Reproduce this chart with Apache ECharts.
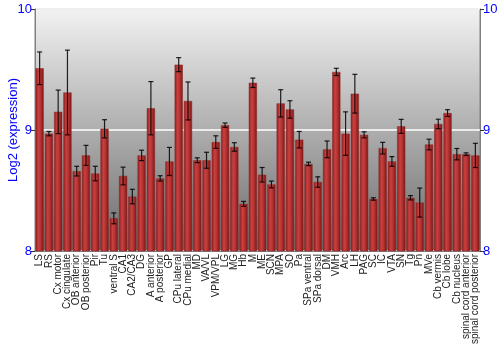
<!DOCTYPE html>
<html>
<head>
<meta charset="utf-8">
<script src="https://cdn.jsdelivr.net/npm/echarts@6/dist/echarts.min.js"></script>
<style>
html,body{margin:0;padding:0;background:#fff;}
#chart{width:500px;height:350px;}
</style>
</head>
<body>
<div id="chart"></div>
<script>
// brain regions
var regions = ['LS', 'RS', 'Cx motor', 'Cx cingulate', 'OB anterior', 'OB posterior', 'Pir', 'Tu',
    'ventral S', 'CA1', 'CA2/CA3', 'DG', 'A anterior', 'A posterior', 'GP', 'CPu lateral',
    'CPu medial', 'MD', 'VA/VL', 'VPM/VPL', 'LG', 'MG', 'Hb', 'M', 'ME', 'SCN', 'MPA', 'SO',
    'Pa', 'SPa ventral', 'SPa dorsal', 'DM', 'VMH', 'Arc', 'LH', 'PAG', 'SC', 'IC', 'VTA', 'SN',
    'Tg', 'Pn', 'MVe', 'Cb vermis', 'Cb lobe', 'Cb nucleus', 'spinal cord anterior', 'spinal cord posterior'];

// mean log2 expression
var expression = [9.51, 8.97, 9.15, 9.31, 8.66, 8.79, 8.64, 9.01,
    8.27, 8.62, 8.45, 8.79, 9.18, 8.60, 8.74, 9.54,
    9.24, 8.75, 8.75, 8.90, 9.04, 8.86, 8.39, 9.39, 8.63, 8.55, 9.22, 9.17,
    8.92, 8.72, 8.57, 8.84, 9.48, 8.97, 9.30, 8.96, 8.43, 8.85, 8.74, 9.03,
    8.44, 8.40, 8.88, 9.05, 9.14, 8.80, 8.80, 8.79];

// error (+/-)
var errors = [0.135, 0.018, 0.18, 0.35, 0.04, 0.083, 0.06, 0.075,
    0.045, 0.073, 0.06, 0.043, 0.22, 0.022, 0.116, 0.058,
    0.157, 0.02, 0.066, 0.052, 0.018, 0.035, 0.02, 0.039, 0.06, 0.028, 0.113, 0.072,
    0.068, 0.014, 0.043, 0.069, 0.03, 0.18, 0.16, 0.025, 0.01, 0.048, 0.04, 0.058,
    0.018, 0.12, 0.044, 0.039, 0.028, 0.047, 0.011, 0.1];

var yTicks = [8, 9, 10];

var chart = echarts.init(document.getElementById('chart'));

var errData = [];
for (var i = 0; i < regions.length; i++) {
    errData.push([i, expression[i] - errors[i], expression[i] + errors[i]]);
}

var blue = '#0000ff';
var font = 'Liberation Sans, Arial, sans-serif';

var yAxisBase = function (pos) {
    return {
        type: 'value',
        position: pos,
        min: yTicks[0],
        max: yTicks[yTicks.length - 1],
        interval: 1,
        axisLine: {show: true, lineStyle: {color: '#808080', width: 1}},
        axisTick: {show: true, length: 4, lineStyle: {color: '#333'}},
        axisLabel: {color: blue, fontSize: 13, fontFamily: font, margin: 3},
        splitLine: {show: pos === 'left', lineStyle: {color: '#ffffff', width: 1.5}}
    };
};

var left = yAxisBase('left');
left.name = 'Log2 (expression)';
left.nameLocation = 'middle';
left.nameGap = 15;
left.nameMoveOverlap = false;
left.nameTextStyle = {color: blue, fontSize: 13, fontFamily: font};

var option = {
    animation: false,
    backgroundColor: '#ffffff',
    grid: {
        left: 35, right: 20, top: 9, bottom: 99,
        containLabel: false,
        outerBoundsMode: 'none',
        show: true,
        borderColor: '#808080',
        borderWidth: 1,
        backgroundColor: new echarts.graphic.LinearGradient(0, 0, 0, 1, [
            {offset: 0, color: '#f2f2f2'},
            {offset: 1, color: '#6a6a6a'}
        ])
    },
    xAxis: {
        type: 'category',
        data: regions,
        axisLine: {show: true, lineStyle: {color: '#808080'}},
        axisTick: {show: false},
        axisLabel: {
            interval: 0,
            rotate: 90,
            fontSize: 10,
            fontFamily: font,
            color: '#222',
            margin: 3
        }
    },
    yAxis: [left, yAxisBase('right')],
    series: [
        {
            type: 'bar',
            data: expression,
            barCategoryGap: '12%',
            itemStyle: {
                color: new echarts.graphic.LinearGradient(0, 0, 1, 0, [
                    {offset: 0, color: '#8a1c1c'},
                    {offset: 0.35, color: '#c94040'},
                    {offset: 0.6, color: '#b83434'},
                    {offset: 1, color: '#7a1414'}
                ]),
                borderColor: '#8c2a2a',
                borderWidth: 0.5
            }
        },
        {
            type: 'custom',
            data: errData,
            z: 10,
            renderItem: function (params, api) {
                var x = api.value(0);
                var lo = api.coord([x, api.value(1)]);
                var hi = api.coord([x, api.value(2)]);
                var half = 2.5;
                var st = {stroke: '#000', lineWidth: 1.2, opacity: 0.85};
                return {
                    type: 'group',
                    children: [
                        {type: 'line', shape: {x1: hi[0], y1: hi[1], x2: lo[0], y2: lo[1]}, style: st},
                        {type: 'line', shape: {x1: hi[0] - half, y1: hi[1], x2: hi[0] + half, y2: hi[1]}, style: st},
                        {type: 'line', shape: {x1: lo[0] - half, y1: lo[1], x2: lo[0] + half, y2: lo[1]}, style: st}
                    ]
                };
            }
        }
    ]
};

chart.setOption(option);
</script>
</body>
</html>
